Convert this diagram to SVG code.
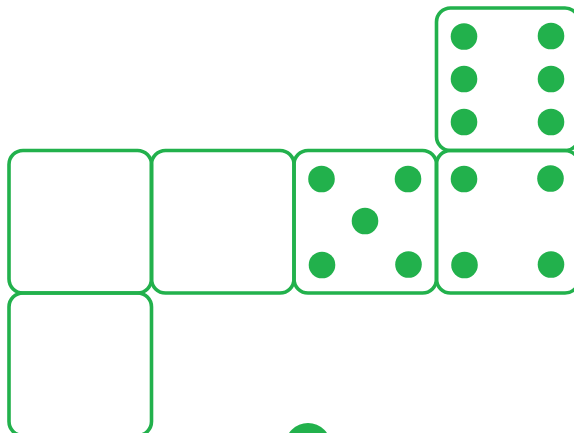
<svg xmlns="http://www.w3.org/2000/svg" width="574" height="433" viewBox="0 0 574 433">
<style>
.face{fill:none;stroke:#22b14c;stroke-width:3.6}
.pip{fill:#22b14c}
</style>
<rect width="574" height="433" fill="#fff"/>
<g id="face-top">
<rect class="face" x="436.5" y="8" width="142.5" height="142.5" rx="14"/>
<circle class="pip" cx="464" cy="36.5" r="13.3"/>
<circle class="pip" cx="551" cy="36" r="13.3"/>
<circle class="pip" cx="464" cy="79" r="13.3"/>
<circle class="pip" cx="551" cy="79" r="13.3"/>
<circle class="pip" cx="464" cy="122" r="13.3"/>
<circle class="pip" cx="551" cy="122" r="13.3"/>
</g>
<g id="face-1">
<rect class="face" x="9" y="150.5" width="142.5" height="142.5" rx="14"/>
</g>
<g id="face-2">
<rect class="face" x="151.5" y="150.5" width="142.5" height="142.5" rx="14"/>
</g>
<g id="face-5">
<rect class="face" x="294" y="150.5" width="142.5" height="142.5" rx="14"/>
<circle class="pip" cx="321.5" cy="179" r="13.3"/>
<circle class="pip" cx="408" cy="179" r="13.3"/>
<circle class="pip" cx="365" cy="221" r="13.3"/>
<circle class="pip" cx="322" cy="265" r="13.3"/>
<circle class="pip" cx="408.5" cy="264.5" r="13.3"/>
</g>
<g id="face-4">
<rect class="face" x="436.5" y="150.5" width="142.5" height="142.5" rx="14"/>
<circle class="pip" cx="464" cy="179" r="13.3"/>
<circle class="pip" cx="550.5" cy="178.5" r="13.3"/>
<circle class="pip" cx="464.5" cy="265" r="13.3"/>
<circle class="pip" cx="551" cy="264.5" r="13.3"/>
</g>
<g id="face-bottom">
<rect class="face" x="9" y="293" width="142.5" height="142.5" rx="14"/>
</g>
<g id="partial">
<circle class="pip" cx="308" cy="446" r="23"/>
</g>
<g id="connectors"></g>
</svg>
